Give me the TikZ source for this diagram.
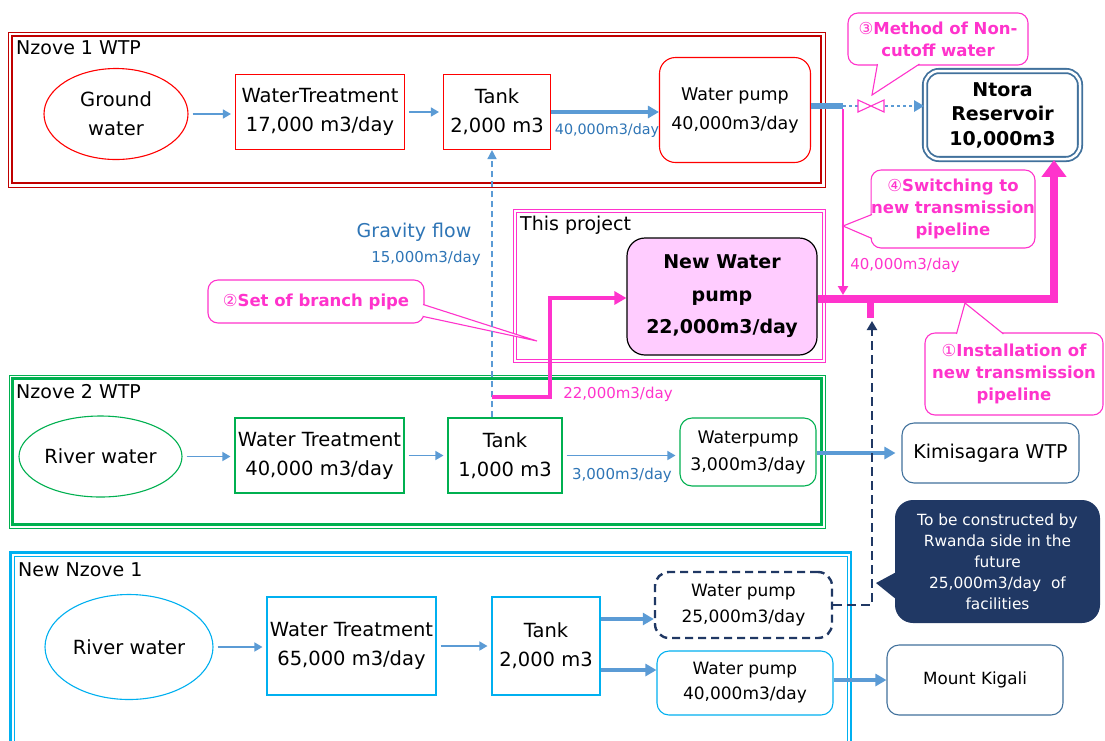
\documentclass[tikz,border=0pt]{standalone}
\usepackage{fontspec}
\setmainfont{DejaVu Sans}
\usetikzlibrary{arrows.meta,shapes.geometric}
\definecolor{WtpRed}{RGB}{192,0,0}
\definecolor{BoxRed}{RGB}{255,0,0}
\definecolor{WtpGreen}{RGB}{0,176,80}
\definecolor{WtpCyan}{RGB}{0,176,240}
\definecolor{PipeBlue}{RGB}{91,155,213}
\definecolor{FlowBlue}{RGB}{46,117,182}
\definecolor{ProjPink}{RGB}{255,51,204}
\definecolor{PumpPink}{RGB}{255,204,255}
\definecolor{NoteNavy}{RGB}{32,56,100}
\definecolor{ResBlue}{RGB}{65,113,156}
\newcommand\cnum[1]{{\mdseries #1}}

\begin{document}
\begin{tikzpicture}[x=1pt,y=-1pt,
    plant/.style={draw=#1,line width=1.1pt,inner sep=0pt,align=center,font=\fontsize{19.5}{29}\selectfont},
    source/.style={plant=#1,ellipse},
    pumpbox/.style={plant=#1,rounded corners=12pt,font=\fontsize{17.5}{29}\selectfont},
    outlet/.style={plant=ResBlue,rounded corners=12pt,font=\fontsize{#1}{22}\selectfont},
    tag/.style={anchor=west,inner sep=0pt,font=\fontsize{19}{22}\selectfont},
    rate/.style={inner sep=0pt,text=#1,font=\fontsize{15}{18}\selectfont},
    flow/.style={draw=PipeBlue,line width=1.4pt,-{Triangle[length=8pt,width=9pt]},shorten <=4pt,shorten >=4pt},
    feed/.style={draw=PipeBlue,line width=4pt,-{Triangle[length=11pt,width=12pt]}},
    note/.style={draw=ProjPink,line width=1.1pt,fill=white,rounded corners=10pt,inner sep=0pt,align=center,
        text=ProjPink,font=\bfseries\fontsize{16.5}{22}\selectfont},
    tail/.style={draw=ProjPink,line width=1.1pt,fill=white},
    trunk/.style={draw=ProjPink,line width=7.5pt}]
  \path[use as bounding box,fill=white] (0,0) rectangle (1105,740);

  % Nzove 1 WTP
  \draw[WtpRed,line width=1pt] (8,32) rectangle (825,187);
  \draw[WtpRed,line width=2.6pt] (12,36) rectangle (821,183);
  \node[tag] (lab1) at (16,48) {Nzove 1 WTP};
  \node[source=BoxRed,minimum width=144pt,minimum height=91pt] (gw1) at (116,114) {Ground\\water};
  \node[plant=BoxRed,minimum width=169pt,minimum height=75pt] (wt1) at (320,112) {WaterTreatment\\17,000 m3/day};
  \node[plant=BoxRed,minimum width=107pt,minimum height=75pt] (tk1) at (497,112) {Tank\\2,000 m3};
  \node[pumpbox=BoxRed,rounded corners=16pt,minimum width=151pt,minimum height=105pt] (pu1) at (735,110) {Water pump\\40,000m3/day};
  \draw[flow] (gw1.east) -- (gw1.east -| wt1.west);
  \draw[flow] (wt1) -- (tk1);
  \draw[feed] (tk1.east) -- (tk1.east -| pu1.west);
  \node[rate=FlowBlue,font=\fontsize{14.3}{17}\selectfont] (q1) at (607,131) {40,000m3/day};

  % Ntora reservoir and the present line
  \node[draw=ResBlue,double=white,double distance=2.5pt,line width=1.8pt,rounded corners=14pt,
        minimum width=155pt,minimum height=88pt,inner sep=0pt,align=center,
        font=\bfseries\fontsize{19}{24.5}\selectfont] (ntora) at (1002.5,115) {Ntora\\Reservoir\\10,000m3};
  \coordinate (tee) at (843,106);
  \draw[PipeBlue,line width=6pt] (pu1.east |- tee) -- (tee);
  \draw[PipeBlue,line width=2.5pt,dash pattern=on 2.5pt off 3.5pt,-{Triangle[length=10pt,width=11pt]}]
    (tee) -- (tee -| ntora.west);
  \draw[ProjPink,line width=1.1pt,fill=white] (858,100) -- (884,112) -- (884,100) -- (858,112) -- cycle;
  \coordinate (j1) at (843,295);
  \draw[ProjPink,line width=2.5pt,-{Triangle[length=9pt,width=10pt]}] ([yshift=-3pt]tee) -- (j1);
  \node[rate=ProjPink] (q4) at (905,265) {40,000m3/day};

  \node[note,minimum width=180pt,minimum height=52pt] (c3) at (938,39) {\cnum{③}Method of Non-\\cutoff water};
  \coordinate (t3) at (872,95);
  \draw[tail] ([xshift=30pt,yshift=1.5pt]c3.south west) -- (t3) -- ([xshift=72pt,yshift=1.5pt]c3.south west);

  \node[note,minimum width=158pt,minimum height=78pt] (c4) at (953,209) {\cnum{④}Switching to\\new transmission\\pipeline};
  \coordinate (t4) at (843,226);
  \draw[tail] ([xshift=1.5pt,yshift=-45pt]c4.north west) -- (t4) -- ([xshift=1.5pt,yshift=-69pt]c4.north west);

  % This project
  \draw[ProjPink,line width=1.2pt,double=white,double distance=2pt] (515,211) rectangle (824,361);
  \node[tag] (lab0) at (520,225) {This project};
  \node[draw=black,fill=PumpPink,line width=1.2pt,rounded corners=18pt,minimum width=190pt,minimum height=117pt,
        inner sep=0pt,align=center,font=\bfseries\fontsize{19}{32.5}\selectfont] (nwp) at (722,296.5) {New Water\\pump\\22,000m3/day};
  \coordinate (bend) at (1054,299);
  \draw[trunk,-{Triangle[length=17pt,width=24pt]}] (nwp.east |- bend) -- (bend) -- (bend |- ntora.south);
  \fill[ProjPink] (867,303) rectangle (874,318);

  \node[note,minimum width=178pt,minimum height=82pt] (c1) at (1014,374) {\cnum{①}Installation of\\new transmission\\pipeline};
  \coordinate (t1) at (965,303);
  \draw[tail] ([xshift=32pt,yshift=-1.5pt]c1.north west) -- (t1) -- ([xshift=79pt,yshift=-1.5pt]c1.north west);

  % gravity flow and branch pipe
  \coordinate (gv) at (492,300);
  \coordinate (br0) at (492,397);
  \coordinate (br1) at (550,298);
  \node[font=\fontsize{19}{22}\selectfont,text=FlowBlue,inner sep=0pt] (gfl) at (414,232) {Gravity flow};
  \node[rate=FlowBlue] (gq) at (426,258) {15,000m3/day};
  \node[rate=ProjPink] (bq) at (618,394) {22,000m3/day};

  \node[note,minimum width=216pt,minimum height=43pt] (c2) at (316,301.5) {\cnum{②}Set of branch pipe};
  \coordinate (t2) at (537,341);
  \draw[tail] ([xshift=-1.5pt,yshift=-25pt]c2.north east) -- (t2) -- ([xshift=-1.5pt,yshift=-37pt]c2.north east);

  % Nzove 2 WTP
  \draw[WtpGreen,line width=1pt] (9,375) rectangle (825,528);
  \draw[WtpGreen,line width=2.6pt] (12.5,378.5) rectangle (821.5,524.5);
  \node[tag] (lab2) at (16,392) {Nzove 2 WTP};
  \node[source=WtpGreen,minimum width=163pt,minimum height=81pt] (rw2) at (100.5,456.5) {River water};
  \node[plant=WtpGreen,minimum width=169pt,minimum height=75pt] (wt2) at (319.5,455.5) {Water Treatment\\40,000 m3/day};
  \node[plant=WtpGreen,minimum width=114pt,minimum height=75pt] (tk2) at (505,455.5) {Tank\\1,000 m3};
  \node[pumpbox=WtpGreen,minimum width=136pt,minimum height=68pt,font=\fontsize{17.3}{27}\selectfont] (pu2) at (748,452) {Waterpump\\3,000m3/day};
  \node[outlet=19,minimum width=177pt,minimum height=60pt] (kim) at (990.5,453) {Kimisagara WTP};
  \draw[flow] (rw2.east) -- (rw2.east -| wt2.west);
  \draw[flow] (wt2) -- (tk2);
  \draw[flow] (tk2.east) -- (tk2.east -| pu2.west);
  \node[rate=FlowBlue] (q2) at (622,475) {3,000m3/day};
  \draw[feed,line width=3.5pt,shorten >=6pt] (pu2.east |- kim) -- (kim.west);

  \draw[PipeBlue,line width=1.6pt,dash pattern=on 6pt off 4pt,-{Triangle[length=9pt,width=9pt]}]
    (gv |- tk2.north) -- (gv |- tk1.south);
  \draw[ProjPink,line width=4pt,-{Triangle[length=12pt,width=13pt]}] (br0) -| (br1) -- (br1 -| nwp.west);

  % New Nzove 1
  \draw[WtpCyan,line width=2.6pt] (10.5,552.5) rectangle (851,760);
  \draw[WtpCyan,line width=1pt] (14.5,556.5) rectangle (847,760);
  \node[tag] (lab3) at (18,570) {New Nzove 1};
  \node[source=WtpCyan,minimum width=168pt,minimum height=105pt] (rw3) at (129,647) {River water};
  \node[plant=WtpCyan,minimum width=169pt,minimum height=98pt] (wt3) at (351.5,646) {Water Treatment\\65,000 m3/day};
  \node[plant=WtpCyan,minimum width=108pt,minimum height=98pt] (tk3) at (546,646) {Tank\\2,000 m3};
  \node[pumpbox=NoteNavy,line width=2.4pt,dash pattern=on 8pt off 5pt,rounded corners=14pt,
        minimum width=177pt,minimum height=66pt,font=\fontsize{17}{26}\selectfont] (pu3a) at (743.5,605) {Water pump\\25,000m3/day};
  \node[pumpbox=WtpCyan,minimum width=176pt,minimum height=64pt,font=\fontsize{17}{25}\selectfont] (pu3b) at (745,683) {Water pump\\40,000m3/day};
  \node[outlet=16.8,minimum width=176pt,minimum height=70pt] (kig) at (975,680) {Mount Kigali};
  \draw[flow] (rw3.east) -- (rw3.east -| wt3.west);
  \draw[flow] (wt3) -- (tk3);
  \coordinate (a3) at ([yshift=-14pt]pu3a.west);
  \coordinate (b3) at ([yshift=13pt]pu3b.west);
  \draw[feed] (tk3.east |- a3) -- (a3);
  \draw[feed] (tk3.east |- b3) -- (b3);
  \draw[feed,line width=3.5pt] (pu3b.east |- kig) -- (kig.west);

  % future pump towards the new line
  \coordinate (ja) at (872,321);
  \draw[NoteNavy,line width=2.6pt,dash pattern=on 9pt off 5pt,-{Triangle[length=9pt,width=10pt]}] (pu3a.east) -| (ja);
  \node[fill=NoteNavy,rounded corners=18pt,minimum width=205pt,minimum height=123pt,inner sep=0pt,align=center,
        text=white,font=\fontsize{15.4}{21}\selectfont] (cN) at (997.5,561.5)
        {To be constructed by\\Rwanda side in the\\future\\25,000m3/day~ of\\facilities};
  \coordinate (tN) at (876,583);
  \fill[NoteNavy] ([xshift=2pt,yshift=-72pt]cN.north west) -- (tN) -- ([xshift=2pt,yshift=-100pt]cN.north west);
\end{tikzpicture}
\end{document}
